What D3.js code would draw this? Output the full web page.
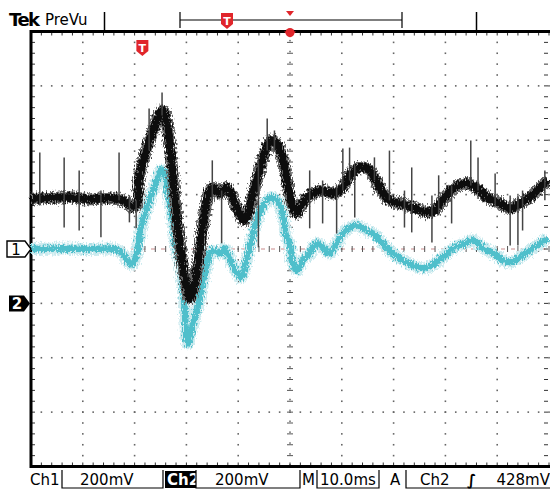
<!DOCTYPE html>
<html>
<head>
<meta charset="utf-8">
<script src="https://cdn.jsdelivr.net/npm/d3@7"></script>
<style>
  body { margin: 0; background: #fff; }
  svg { display: block; }
  text { font-family: "DejaVu Sans", "Liberation Sans", sans-serif; }
</style>
</head>
<body>
<svg id="scope"></svg>
<script>
// time in ms from left edge of the screen (10 ms/div), voltages in mV (200 mV/div)
const ch2Time = [0, 3.5, 7.4, 11.2, 15.1, 18.0, 19.3, 20.3, 20.9, 22.2, 23.8, 24.8, 25.5, 26.3, 27.1, 28.0, 28.8, 29.8, 30.6, 31.3, 32.5, 33.5, 34.4, 35.2, 36.4, 37.7, 38.7, 39.7, 41.2, 42.7, 44.1, 45.5, 46.4, 47.4, 48.4, 49.3, 50.3, 51.3, 52.4, 54.4, 56.3, 58.2, 60.2, 61.5, 63.4, 65.4, 67.3, 69.2, 71.2, 73.7, 76.4, 77.9, 79.9, 81.8, 84.1, 86.1, 88.0, 90.5, 92.5, 94.4, 96.3, 98.3, 99.8];
const ch2Volts = [385, 388, 390, 383, 387, 376, 357, 360, 463, 562, 647, 698, 709, 654, 526, 342, 206, 85, 18, 48, 184, 331, 408, 426, 404, 426, 397, 353, 305, 390, 489, 573, 599, 588, 544, 463, 368, 331, 368, 404, 415, 404, 426, 471, 500, 489, 426, 379, 368, 353, 335, 342, 390, 426, 441, 423, 390, 368, 349, 368, 390, 426, 452];

const ch1Time = [0, 5.4, 11.2, 16.1, 17.4, 18.6, 19.5, 20.3, 21.1, 22.2, 23.8, 25.1, 25.7, 26.3, 27.3, 28.0, 28.8, 29.6, 30.2, 31.1, 32.5, 33.8, 35.0, 36.4, 37.3, 38.3, 39.5, 40.6, 41.6, 42.7, 44.1, 45.6, 46.4, 47.4, 48.4, 49.3, 49.9, 50.5, 51.3, 52.4, 53.8, 55.1, 56.3, 57.6, 59.0, 60.2, 61.5, 62.9, 64.8, 66.0, 67.9, 69.8, 71.8, 73.7, 76.0, 77.9, 79.9, 81.8, 84.1, 85.3, 87.2, 89.2, 91.1, 92.5, 94.4, 96.3, 98.3, 99.8];
const ch1Volts = [0, 2, 0, 0, -12, -42, -57, -24, 61, 142, 226, 289, 282, 226, 116, 6, -60, -200, -347, -288, -189, -68, -5, -16, 2, -31, -79, -104, -42, 43, 131, 179, 190, 179, 142, 43, 21, -53, -79, -42, -16, 21, 6, -16, 21, 57, 79, 87, 68, 57, 21, -16, -42, -60, -71, -53, -24, 6, 24, 32, 6, -16, -42, -49, -31, -5, 21, 39];

// glitches on ch2: time, top, bottom (mV)
const spikeTime = [1.7, 6.4, 9.3, 13.5, 17.0, 19.0, 20.3, 22.8, 25.3, 35.0, 36.8, 43.9, 45.6, 47.0, 53.8, 56.3, 59.0, 60.2, 61.5, 62.5, 66.3, 69.2, 72.1, 73.5, 77.4, 78.7, 81.2, 84.9, 86.3, 89.6, 92.5, 94.0, 94.9, 99.2];
const spikeTop = [555, 537, 489, 415, 555, 397, 379, 717, 776, 526, 415, 526, 680, 636, 489, 452, 434, 570, 573, 507, 537, 562, 415, 500, 397, 471, 434, 599, 537, 478, 397, 397, 415, 489];
const spikeBottom = [360, 279, 268, 243, 379, 298, 276, 562, 691, 379, 221, 206, 562, 562, 276, 294, 257, 415, 452, 316, 452, 379, 279, 261, 224, 324, 294, 434, 415, 360, 213, 213, 268, 379];

const ch1Ground = 0;    // divisions
const ch2Ground = -1;
const voltsPerDiv = 200;
const trigTime = 21.5;
const readouts = ["Ch1", "200mV", "Ch2", "200mV", "M", "10.0ms", "A", "Ch2", "428mV"];

const W = 550, H = 490;
const gLeft = 31, gRight = 549, gTop = 31.5, gBottom = 466.5;

const svg = d3.select("#scope").attr("width", W).attr("height", H);

// rough edge for the traces
const defs = svg.append("defs");
const fuzz = defs.append("filter").attr("id", "fuzz")
  .attr("x", "-5%").attr("y", "-20%").attr("width", "110%").attr("height", "140%");
fuzz.append("feTurbulence").attr("type", "fractalNoise").attr("baseFrequency", "0.9 0.35")
  .attr("numOctaves", 2).attr("seed", 3).attr("result", "noise");
fuzz.append("feDisplacementMap").attr("in", "SourceGraphic").attr("in2", "noise")
  .attr("scale", 9).attr("xChannelSelector", "R").attr("yChannelSelector", "G");

const x = d3.scaleLinear().domain([0, 100]).range([gLeft, gRight]);
const y = d3.scaleLinear().domain([-4, 4]).range([gBottom, gTop]);
const ch1y = v => y(ch1Ground + v / voltsPerDiv);
const ch2y = v => y(ch2Ground + v / voltsPerDiv);

// graticule
const g = svg.append("g");
const minorX = d3.range(0, 100.01, 2);
const minorY = d3.range(-4, 4.01, 0.2);

// dotted division lines
d3.range(10, 100, 10).filter(t => t != 50).forEach(t => {
  g.selectAll(null).data(minorY).enter().append("rect")
    .attr("x", x(t) - 0.8).attr("y", d => y(d) - 0.8)
    .attr("width", 1.6).attr("height", 1.6).attr("fill", "#666");
});
d3.range(-3, 4, 1).filter(v => v != 0).forEach(v => {
  g.selectAll(null).data(minorX).enter().append("rect")
    .attr("x", d => x(d) - 0.8).attr("y", y(v) - 0.8)
    .attr("width", 1.6).attr("height", 1.6).attr("fill", "#666");
});

// centre cross with small ticks
g.append("line").attr("x1", gLeft).attr("x2", gRight).attr("y1", y(0)).attr("y2", y(0))
  .attr("stroke", "#c98a8a").attr("stroke-width", 1).attr("stroke-dasharray", "4,6");
g.selectAll(null).data(minorX).enter().append("line")
  .attr("x1", d => x(d)).attr("x2", d => x(d))
  .attr("y1", y(0) - 3).attr("y2", y(0) + 3)
  .attr("stroke", "#555").attr("stroke-width", 1);
g.selectAll(null).data(minorY).enter().append("line")
  .attr("x1", x(50) - 3).attr("x2", x(50) + 3)
  .attr("y1", d => y(d)).attr("y2", d => y(d))
  .attr("stroke", "#555").attr("stroke-width", 1);
g.selectAll(null).data(minorY).enter().append("rect")
  .attr("x", x(50) - 0.8).attr("y", d => y(d) - 2.5)
  .attr("width", 1.6).attr("height", 1.6).attr("fill", "#777");

// edge ticks
g.selectAll(null).data(minorX).enter().append("line")
  .attr("x1", d => x(d)).attr("x2", d => x(d)).attr("y1", gTop).attr("y2", gTop + 4)
  .attr("stroke", "#333");
g.selectAll(null).data(minorX).enter().append("line")
  .attr("x1", d => x(d)).attr("x2", d => x(d)).attr("y1", gBottom).attr("y2", gBottom - 4)
  .attr("stroke", "#333");
g.selectAll(null).data(minorY).enter().append("line")
  .attr("x1", gLeft).attr("x2", gLeft + 4).attr("y1", d => y(d)).attr("y2", d => y(d))
  .attr("stroke", "#333");
g.selectAll(null).data(minorY).enter().append("line")
  .attr("x1", gRight - 1).attr("x2", gRight - 5).attr("y1", d => y(d)).attr("y2", d => y(d))
  .attr("stroke", "#333");

// frame (right edge is off the picture)
g.append("path")
  .attr("d", `M${W},${gTop} H${gLeft} V${gBottom} H${W}`)
  .attr("fill", "none").attr("stroke", "#000").attr("stroke-width", 3);

// traces
const line1 = d3.line().x((d, i) => x(ch1Time[i])).y(d => ch1y(d)).curve(d3.curveCatmullRom);
const line2 = d3.line().x((d, i) => x(ch2Time[i])).y(d => ch2y(d)).curve(d3.curveCatmullRom);

const tr = svg.append("g").attr("filter", "url(#fuzz)");

tr.append("path").attr("d", line1(ch1Volts))
  .attr("fill", "none").attr("stroke", "#cdebef").attr("stroke-width", 12).attr("stroke-linejoin", "round");
tr.append("path").attr("d", line1(ch1Volts))
  .attr("fill", "none").attr("stroke", "#4fbfcb").attr("stroke-width", 6.5).attr("stroke-linejoin", "round");

svg.append("g").selectAll("line").data(spikeTime).enter().append("line")
  .attr("x1", d => x(d)).attr("x2", d => x(d))
  .attr("y1", (d, i) => ch2y(spikeTop[i])).attr("y2", (d, i) => ch2y(spikeBottom[i]))
  .attr("stroke", "#444").attr("stroke-width", 1.5);

tr.append("path").attr("d", line2(ch2Volts))
  .attr("fill", "none").attr("stroke", "#666").attr("stroke-width", 12).attr("stroke-linejoin", "round");
tr.append("path").attr("d", line2(ch2Volts))
  .attr("fill", "none").attr("stroke", "#0c0c0c").attr("stroke-width", 8).attr("stroke-linejoin", "round");

// channel ground markers
const m1 = y(ch1Ground), m2 = y(ch2Ground);
svg.append("path").attr("d", `M7,${m1 - 8} H25 L31,${m1} L25,${m1 + 8} H7 Z`)
  .attr("fill", "#fff").attr("stroke", "#000").attr("stroke-width", 1.4);
svg.append("text").attr("x", 16).attr("y", m1 + 5.5).attr("text-anchor", "middle")
  .style("font-size", "15px").attr("fill", "#000").text("1");
svg.append("path").attr("d", `M9,${m2 - 8} H24 L30,${m2} L24,${m2 + 8} H9 Z`)
  .attr("fill", "#000");
svg.append("text").attr("x", 17).attr("y", m2 + 5.5).attr("text-anchor", "middle")
  .style("font-size", "15px").style("font-weight", "bold").attr("fill", "#fff").text("2");

// trigger marker
function tMark(cx, cy) {
  svg.append("path")
    .attr("d", `M${cx - 6},${cy - 8} H${cx + 6} V${cy + 3} L${cx},${cy + 8} L${cx - 6},${cy + 3} Z`)
    .attr("fill", "#e0252b");
  svg.append("text").attr("x", cx).attr("y", cy + 4).attr("text-anchor", "middle")
    .style("font-size", "11px").style("font-weight", "bold").attr("fill", "#fff").text("T");
}
tMark(x(trigTime), 48);

// header
svg.append("text").attr("x", 9).attr("y", 26).style("font-size", "18px").style("font-weight", "bold")
  .style("letter-spacing", "-1.5px").text("Tek");
svg.append("text").attr("x", 45).attr("y", 25).style("font-size", "15px").text("PreVu");
svg.append("line").attr("x1", 104.5).attr("x2", 104.5).attr("y1", 12).attr("y2", 31).attr("stroke", "#000").attr("stroke-width", 1.5);
svg.append("line").attr("x1", 476.5).attr("x2", 476.5).attr("y1", 12).attr("y2", 31).attr("stroke", "#000").attr("stroke-width", 1.5);
svg.append("path").attr("d", "M180,12 V28 M180,20 H402 M402,12 V28")
  .attr("fill", "none").attr("stroke", "#000").attr("stroke-width", 1.2);
tMark(227, 21);
svg.append("path").attr("d", `M${x(50) - 4},11 H${x(50) + 4} L${x(50)},16 Z`).attr("fill", "#e0252b");
svg.append("path").attr("d", `M${x(50) - 6},${gTop} H${x(50) + 6} L${x(50)},${gTop + 6} Z`).attr("fill", "#e0252b");
svg.append("circle").attr("cx", x(50)).attr("cy", gTop + 1).attr("r", 4.5).attr("fill", "#e0252b");

// readout line
const fy = 485;
const ro = svg.append("g").style("font-size", "15px");
ro.append("text").attr("x", 30).attr("y", fy).text(readouts[0]);
ro.append("text").attr("x", 80).attr("y", fy).text(readouts[1]);
ro.append("rect").attr("x", 165).attr("y", 471).attr("width", 31).attr("height", 17).attr("fill", "#000");
ro.append("text").attr("x", 167).attr("y", fy).attr("fill", "#fff").style("font-weight", "bold").text(readouts[2]);
ro.append("text").attr("x", 215).attr("y", fy).text(readouts[3]);
ro.append("text").attr("x", 302).attr("y", fy).text(readouts[4]);
ro.append("text").attr("x", 320).attr("y", fy).text(readouts[5]);
ro.append("text").attr("x", 390).attr("y", fy).text(readouts[6]);
ro.append("text").attr("x", 420).attr("y", fy).text(readouts[7]);
ro.append("text").attr("x", 467).attr("y", fy).style("font-style", "italic").style("font-weight", "bold").text("\u222B");
ro.append("text").attr("x", 550).attr("y", fy).attr("text-anchor", "end").text(readouts[8]);
ro.append("path")
  .attr("d", "M62,470 V488 H163 V470 M196,470 V488 H300 V470 M317,470 V488 H379 V470 M406,470 V488 H550")
  .attr("fill", "none").attr("stroke", "#000").attr("stroke-width", 1.2);
</script>
</body>
</html>
